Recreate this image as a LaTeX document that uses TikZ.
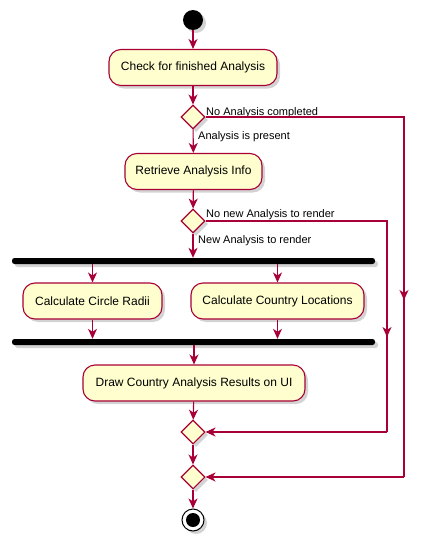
\documentclass[tikz,border=0pt]{standalone}
\usepackage{fontspec}
\setmainfont{Liberation Sans}
\usetikzlibrary{arrows.meta,shapes.geometric,shadows}
\definecolor{pborder}{HTML}{A80036}
\definecolor{pfill}{HTML}{FEFECE}
\begin{document}
\begin{tikzpicture}[x=1pt,y=-1pt,
  shad/.style={drop shadow={shadow xshift=3pt,shadow yshift=-3pt,opacity=0.35,fill=gray}},
  act/.style={draw=pborder,fill=pfill,line width=1.1pt,rounded corners=12pt,minimum height=36pt,inner sep=0pt,font=\fontsize{12}{14}\selectfont,shad},
  dec/.style={diamond,aspect=1,draw=pborder,fill=pfill,line width=1.1pt,minimum width=24pt,minimum height=24pt,inner sep=0pt,shad},
  bar/.style={rectangle,fill=black,rounded corners=2.5pt,minimum width=363pt,minimum height=6pt,inner sep=0pt,shad},
  startnode/.style={circle,fill=black,minimum size=20pt,inner sep=0pt,shad},
  endnode/.style={circle,draw=black,fill=white,line width=1pt,minimum size=22pt,inner sep=0pt,shad},
  flow/.style={draw=pborder,line width=1.1pt,-{Stealth[length=10pt,width=9pt,inset=3pt]}},
  plain/.style={draw=pborder,line width=1.1pt},
  lbl/.style={font=\fontsize{11}{13}\selectfont,inner sep=0pt}]
\useasboundingbox (0,0) rectangle (429,546);
\node[startnode] (start) at (193,20) {};
\node[act,minimum width=168pt] (check) at (193,67.5) {Check for finished Analysis};
\node[dec] (d1) at (193,117) {};
\node[act,minimum width=137pt] (retr) at (193.5,171.5) {Retrieve Analysis Info};
\node[dec] (d2) at (193,221) {};
\node[bar] (f1) at (193.5,261) {};
\node[act,minimum width=139pt] (radii) at (92.5,301) {Calculate Circle Radii};
\node[act,minimum width=173pt] (loc) at (277.5,301) {Calculate Country Locations};
\node[bar] (f2) at (193.5,342) {};
\node[act,minimum width=222pt] (drawui) at (194,383) {Draw Country Analysis Results on UI};
\node[dec] (m1) at (193,432) {};
\node[dec] (m2) at (193,477) {};
\node[endnode] (stop) at (193,520) {};
\fill[black] (stop.center) circle (7pt);
% labels
\node[lbl,anchor=base west] (l1) at (206,115) {No Analysis completed};
\node[lbl,anchor=west] (l2) at (198,137) {Analysis is present};
\node[lbl,anchor=west] (l3) at (206,215) {No new Analysis to render};
\node[lbl,anchor=west] (l4) at (198,241) {New Analysis to render};
% main flow
\draw[flow] (start) -- (check);
\draw[flow] (check) -- (d1);
\draw[flow] (d1) -- (retr);
\draw[flow] (retr) -- (d2);
\draw[flow] (d2) -- (d2.south |- f1.north);
\draw[flow] (radii.north |- f1.south) -- (radii.north);
\draw[flow] (loc.north |- f1.south) -- (loc.north);
\draw[flow] (radii.south) -- (radii.south |- f2.north);
\draw[flow] (loc.south) -- (loc.south |- f2.north);
\draw[flow] (drawui.north |- f2.south) -- (drawui.north);
\draw[flow] (drawui) -- (m1);
\draw[flow] (m1) -- (m2);
\draw[flow] (m2) -- (stop);
% outer branch
\coordinate (r1top) at (404,117);
\coordinate (r1mid) at (404,300);
\coordinate (r1bot) at (404,477);
\draw[plain] (d1.east) -- (r1top) -- (r1bot);
\draw[flow] (r1top) -- (r1mid);
\draw[flow] (r1bot) -- (m2.east);
% inner branch
\coordinate (r2top) at (387,221);
\coordinate (r2mid) at (387,337);
\coordinate (r2bot) at (387,432);
\draw[plain] (d2.east) -- (r2top) -- (r2bot);
\draw[flow] (r2top) -- (r2mid);
\draw[flow] (r2bot) -- (m1.east);
\end{tikzpicture}
\end{document}
